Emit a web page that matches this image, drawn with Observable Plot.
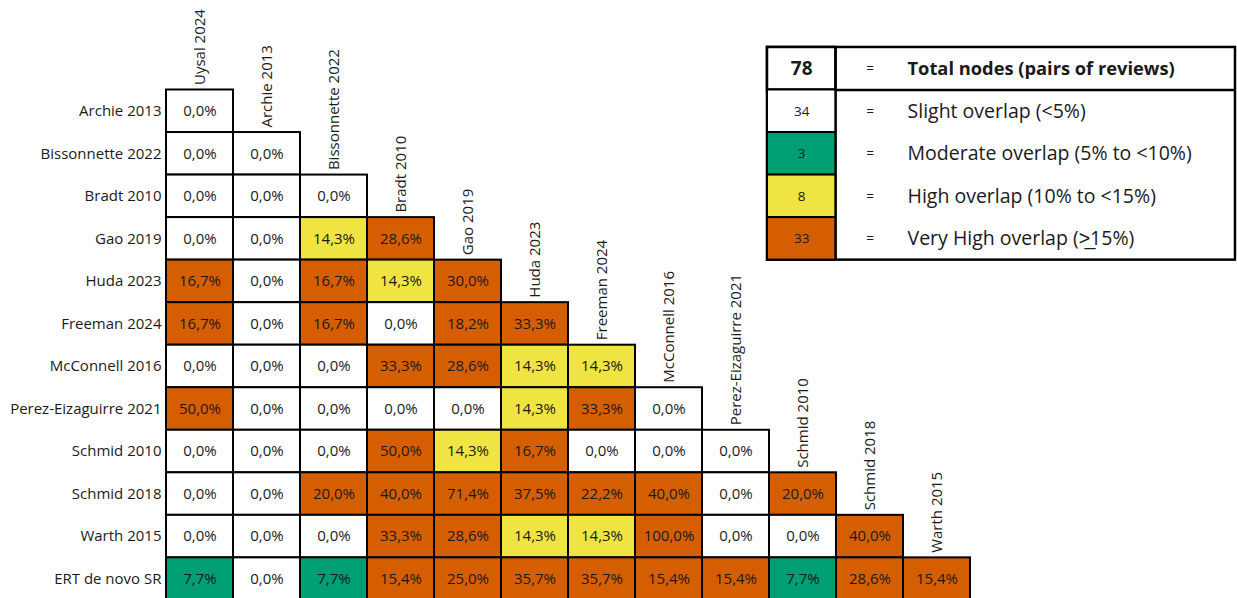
<!DOCTYPE html>
<html><head><meta charset="utf-8">
<script src="https://cdn.jsdelivr.net/npm/d3@7"></script>
<script src="https://cdn.jsdelivr.net/npm/@observablehq/plot@0.6"></script>
<style>body{margin:0;background:#fff} svg{display:block}</style>
</head><body><div id="chart"></div>
<script>
// ---- data ----
const rowLabels = ["Archie 2013", "Bissonnette 2022", "Bradt 2010", "Gao 2019", "Huda 2023", "Freeman 2024",
  "McConnell 2016", "Perez-Eizaguirre 2021", "Schmid 2010", "Schmid 2018", "Warth 2015", "ERT de novo SR"];
const colLabels = ["Uysal 2024", "Archie 2013", "Bissonnette 2022", "Bradt 2010", "Gao 2019", "Huda 2023",
  "Freeman 2024", "McConnell 2016", "Perez-Eizaguirre 2021", "Schmid 2010", "Schmid 2018", "Warth 2015"];
const overlapValues = [
  [0.0],
  [0.0, 0.0],
  [0.0, 0.0, 0.0],
  [0.0, 0.0, 14.3, 28.6],
  [16.7, 0.0, 16.7, 14.3, 30.0],
  [16.7, 0.0, 16.7, 0.0, 18.2, 33.3],
  [0.0, 0.0, 0.0, 33.3, 28.6, 14.3, 14.3],
  [50.0, 0.0, 0.0, 0.0, 0.0, 14.3, 33.3, 0.0],
  [0.0, 0.0, 0.0, 50.0, 14.3, 16.7, 0.0, 0.0, 0.0],
  [0.0, 0.0, 20.0, 40.0, 71.4, 37.5, 22.2, 40.0, 0.0, 20.0],
  [0.0, 0.0, 0.0, 33.3, 28.6, 14.3, 14.3, 100.0, 0.0, 0.0, 40.0],
  [7.7, 0.0, 7.7, 15.4, 25.0, 35.7, 35.7, 15.4, 15.4, 7.7, 28.6, 15.4]
];
const thresholds = [5, 10, 15];
const categories = ["Slight overlap (<5%)", "Moderate overlap (5% to <10%)", "High overlap (10% to <15%)", "Very High overlap (>\u033215%)"];
const categoryColors = ["#ffffff", "#009E73", "#F0E442", "#D55E00"];
const categoryCounts = [34, 3, 8, 33];
const totalNodes = 78;
const totalLabel = "Total nodes (pairs of reviews)";

// ---- derived tables ----
const cells = [];
overlapValues.forEach((row, r) => row.forEach((v, c) => cells.push({
  r, c, v, cat: categories[d3.bisectRight(thresholds, v)],
  label: v.toFixed(1).replace(".", ",") + "%"
})));
const headers = colLabels.map((name, c) => ({name, c}));
const rows = rowLabels.map((name, r) => ({name, r}));

// legend occupies matrix-aligned rows -1..3 to the right of the triangle
const legL = 8.97, legM = 9.99, legR = 15.955;
const legendRows = categories.map((cat, i) => ({cat, n: categoryCounts[i], r: i}));

const FONT = "'Open Sans', sans-serif";
const TXT = "#1a1a1a";
const chart = Plot.plot({
  width: 1237, height: 598,
  margin: 0,
  style: {fontFamily: FONT, fontSize: "15px", color: TXT, background: "white"},
  x: {type: "linear", domain: [0, 12], range: [166, 970], axis: null},
  y: {type: "linear", domain: [0, 12], range: [89.5, 599.9], axis: null},
  color: {type: "ordinal", domain: categories, range: categoryColors},
  marks: [
    // matrix cells
    Plot.rect(cells, {x1: "c", x2: d => d.c + 1, y1: "r", y2: d => d.r + 1, fill: "cat", stroke: "black", strokeWidth: 2}),
    Plot.text(cells, {x: d => d.c + 0.5, y: d => d.r + 0.5, text: "label", fontSize: 15, fill: TXT}),
    // row labels
    Plot.text(rows, {x: 0, y: d => d.r + 0.5, text: "name", textAnchor: "end", dx: -5, fontSize: 15, fill: TXT}),
    // column headers (rotated, in the diagonal cell above each column)
    Plot.text(headers, {x: d => d.c + 0.5, y: "c", text: "name", rotate: -90, textAnchor: "start", lineAnchor: "middle", dy: -5, fontSize: 15, fill: TXT}),
    // legend
    Plot.rect([totalNodes], {x1: legL, x2: legR, y1: -1, y2: 4, fill: "white", stroke: "black", strokeWidth: 2.5}),
    Plot.ruleY([0], {x1: legL, x2: legR, stroke: "black", strokeWidth: 2.5}),
    Plot.ruleX([legM], {y1: -1, y2: 4, stroke: "black", strokeWidth: 2}),
    Plot.rect([totalNodes], {x1: legL, x2: legM, y1: -1, y2: 0, fill: "white", stroke: "black", strokeWidth: 2.5}),
    Plot.rect(legendRows, {x1: legL, x2: legM, y1: "r", y2: d => d.r + 1, fill: "cat", stroke: "black", strokeWidth: 2}),
    Plot.text([totalNodes], {x: (legL + legM) / 2, y: -0.5, text: d => String(d), fontSize: 19, fontWeight: "bold", fill: TXT}),
    Plot.text([totalLabel], {x: 11.06, y: -0.5, text: d => d, textAnchor: "start", fontSize: 18.3, fontWeight: "bold", fill: TXT}),
    Plot.text(legendRows, {x: (legL + legM) / 2, y: d => d.r + 0.5, text: d => String(d.n), fontSize: 13.5, fill: TXT}),
    Plot.text([-1, ...legendRows.map(d => d.r)], {x: 10.5, y: d => d + 0.5, text: () => "=", fontSize: 13.5, fill: TXT}),
    Plot.text(legendRows, {x: 11.06, y: d => d.r + 0.5, text: "cat", textAnchor: "start", fontSize: 19.5, fill: TXT})
  ]
});
document.getElementById("chart").appendChild(chart);
</script>
</body></html>
